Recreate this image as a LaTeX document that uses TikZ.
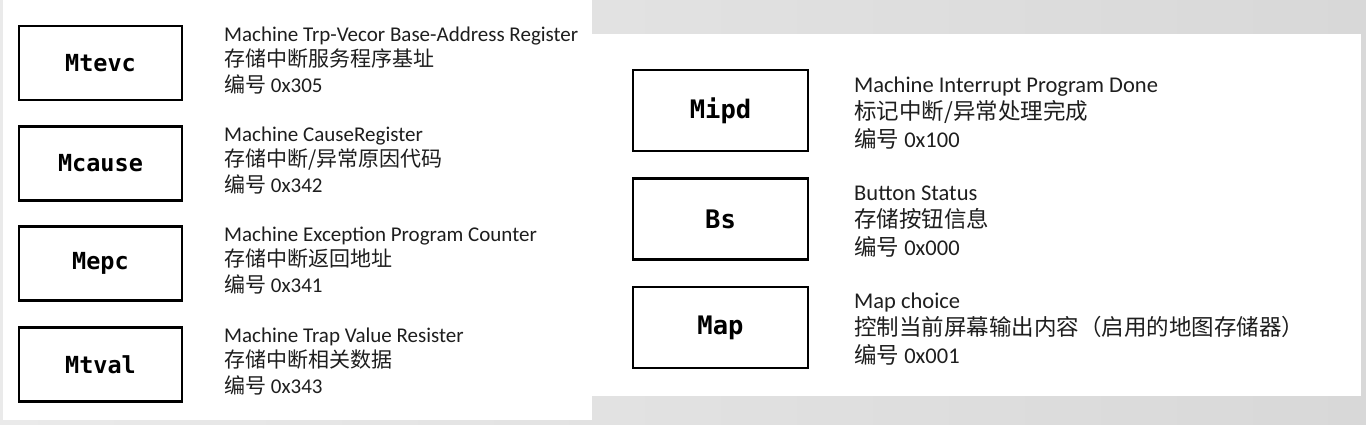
\documentclass[tikz,border=0pt]{standalone}
\usepackage{fontspec}
\setmainfont{Carlito}
\newfontfamily\cjk{Noto Sans CJK SC}
\newfontfamily\boxfont{DejaVu Sans Mono}
\definecolor{bgA}{HTML}{EAEAEA}
\definecolor{bgB}{HTML}{D8D8D8}
\definecolor{txt}{HTML}{1E1E1E}
\begin{document}
\begin{tikzpicture}[x=1pt,y=-1pt,
  reg/.style={draw=black,line width=2.2pt,fill=white,inner sep=0pt,text=black},
  lbox/.style={reg,minimum width=163pt,minimum height=74pt,font=\boxfont\bfseries\fontsize{23.5}{28}\selectfont},
  rbox/.style={reg,minimum width=175pt,minimum height=81pt,font=\boxfont\bfseries\fontsize{25.5}{30}\selectfont},
  ltxt/.style={anchor=base west,inner sep=0pt,text=txt,font=\fontsize{21}{25}\selectfont},
  rtxt/.style={anchor=base west,inner sep=0pt,text=txt,font=\fontsize{22.5}{27}\selectfont}]
\useasboundingbox (0,0) rectangle (1366,424);
\shade[left color=bgA,right color=bgB] (0,0) rectangle (1366,424);
\fill[white] (3,0) rectangle (592,420);
\fill[white] (592,34) rectangle (1361,396);
% left boxes
\node[lbox] (mtevc) at (100.5,63) {Mtevc};
\node[lbox] (mcause) at (100.5,163.5) {Mcause};
\node[lbox] (mepc) at (100.5,263.5) {Mepc};
\node[lbox] (mtval) at (100.5,364.5) {Mtval};
% left texts
\node[ltxt] (a1) at (224,41) {Machine Trp-Vecor Base-Address Register};
\node[ltxt] (a2) at (224,66.5) {\cjk 存储中断服务程序基址};
\node[ltxt] (a3) at (224,92) {{\cjk 编号} 0x305};
\node[ltxt] (b1) at (224,141) {Machine CauseRegister};
\node[ltxt] (b2) at (224,166.5) {\cjk 存储中断/异常原因代码};
\node[ltxt] (b3) at (224,192) {{\cjk 编号} 0x342};
\node[ltxt] (c1) at (224,241) {Machine Exception Program Counter};
\node[ltxt] (c2) at (224,266.5) {\cjk 存储中断返回地址};
\node[ltxt] (c3) at (224,292) {{\cjk 编号} 0x341};
\node[ltxt] (d1) at (224,342) {Machine Trap Value Resister};
\node[ltxt] (d2) at (224,367.5) {\cjk 存储中断相关数据};
\node[ltxt] (d3) at (224,393) {{\cjk 编号} 0x343};
% right boxes
\node[rbox] (mipd) at (720.5,110.5) {Mipd};
\node[rbox] (bs) at (720.5,219) {Bs};
\node[rbox] (map) at (720.5,327.5) {Map};
% right texts
\node[rtxt] (e1) at (854,92) {Machine Interrupt Program Done};
\node[rtxt] (e2) at (854,119.5) {\cjk 标记中断/异常处理完成};
\node[rtxt] (e3) at (854,147) {{\cjk 编号} 0x100};
\node[rtxt] (f1) at (854,200) {Button Status};
\node[rtxt] (f2) at (854,227.5) {\cjk 存储按钮信息};
\node[rtxt] (f3) at (854,255) {{\cjk 编号} 0x000};
\node[rtxt] (g1) at (854,308) {Map choice};
\node[rtxt] (g2) at (854,335.5) {\cjk 控制当前屏幕输出内容（启用的地图存储器）};
\node[rtxt] (g3) at (854,363) {{\cjk 编号} 0x001};
\end{tikzpicture}
\end{document}
